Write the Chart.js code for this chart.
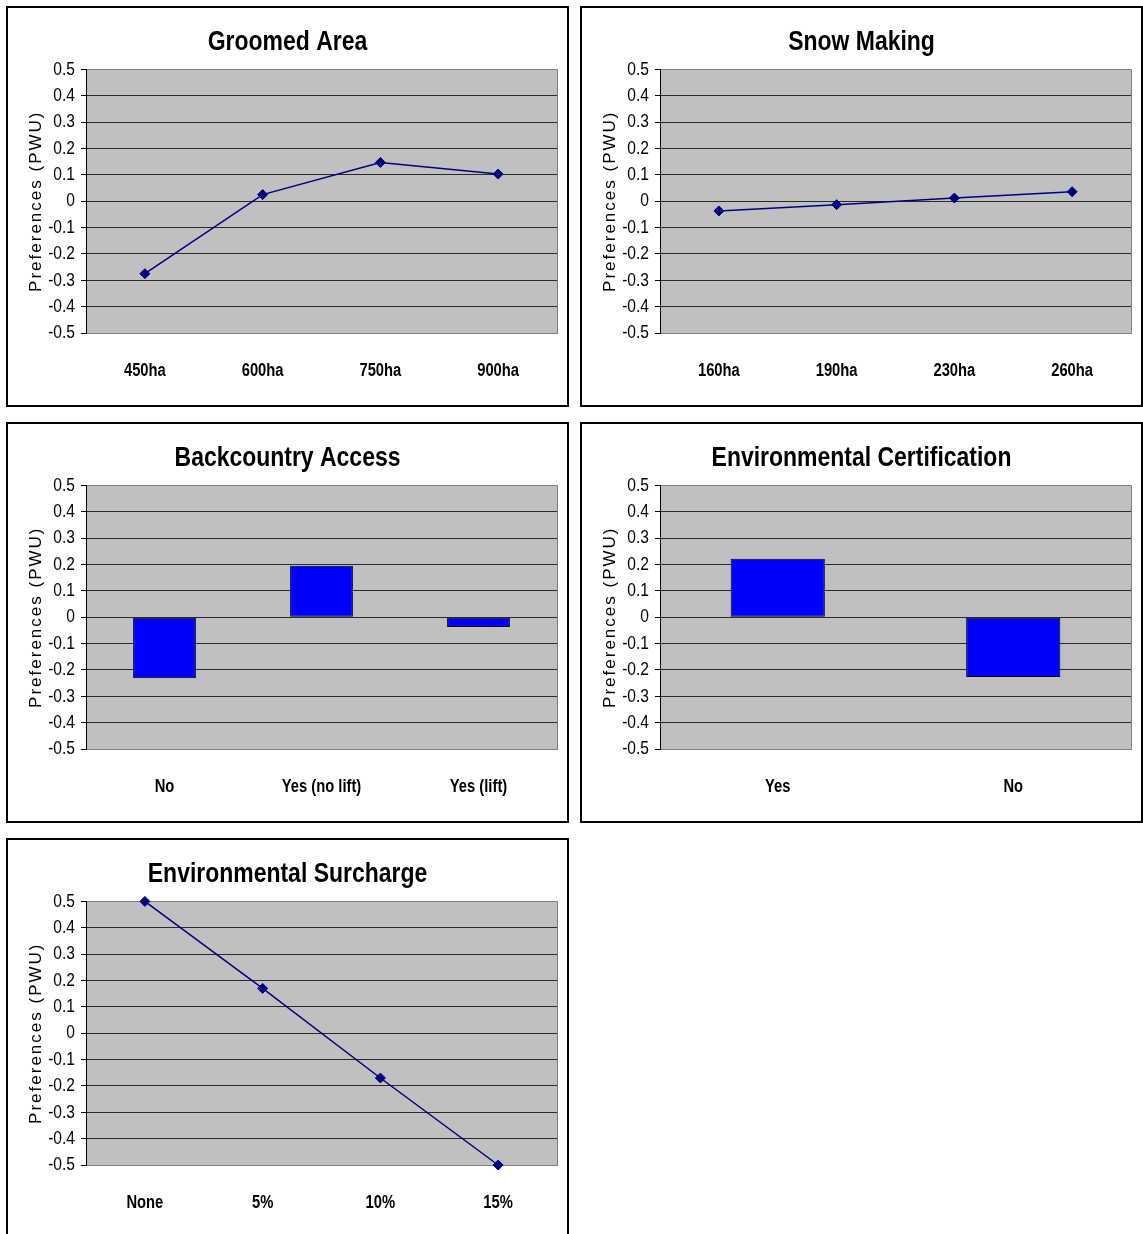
<!DOCTYPE html>
<html>
<head>
<meta charset="utf-8">
<script src="https://cdn.jsdelivr.net/npm/chart.js@4.4.1/dist/chart.umd.min.js"></script>
<style>
  html, body { margin: 0; padding: 0; background: #fff; overflow: hidden; }
  body { width: 1143px; height: 1234px; position: relative; }
  .panel { position: absolute; border: 2px solid #000; width: 559px; height: 397px; background: #fff; }
  .panel canvas { display: block; }
</style>
</head>
<body>
<div class="panel" style="left:6px;top:6px"><canvas id="groomed" width="559" height="397"></canvas></div>
<div class="panel" style="left:580px;top:6px"><canvas id="snow" width="559" height="397"></canvas></div>
<div class="panel" style="left:6px;top:422px"><canvas id="backcountry" width="559" height="397"></canvas></div>
<div class="panel" style="left:580px;top:422px"><canvas id="cert" width="559" height="397"></canvas></div>
<div class="panel" style="left:6px;top:838px"><canvas id="surcharge" width="559" height="397"></canvas></div>
<script>
// Part-worth utilities per attribute level
const groomedLabels = ['450ha', '600ha', '750ha', '900ha'];
const groomedValues = [-0.275, 0.025, 0.147, 0.103];

const snowLabels = ['160ha', '190ha', '230ha', '260ha'];
const snowValues = [-0.037, -0.013, 0.012, 0.036];

const backcountryLabels = ['No', 'Yes (no lift)', 'Yes (lift)'];
const backcountryValues = [-0.232, 0.195, -0.037];

const certLabels = ['Yes', 'No'];
const certValues = [0.222, -0.227];

const surchargeLabels = ['None', '5%', '10%', '15%'];
const surchargeValues = [0.5, 0.17, -0.17, -0.5];

// Shared value axis
const Y_MIN = -0.5;
const Y_MAX = 0.5;
const Y_STEP = 0.1;
const Y_TITLE = 'Preferences (PWU)';

const NARROW = "'Liberation Sans Narrow', 'Arial Narrow', 'Liberation Sans', Arial, sans-serif";
const REGULAR = "'Liberation Sans', Arial, sans-serif";

// When no narrow face is installed, squeeze the regular face horizontally instead.
const NARROW_FACTOR = (function () {
  const p = document.createElement('canvas').getContext('2d');
  p.font = "40px 'Liberation Sans Narrow', 'Arial Narrow', monospace";
  const a = p.measureText('Groomed Area 0.5').width;
  p.font = '40px monospace';
  const b = p.measureText('Groomed Area 0.5').width;
  return Math.abs(a - b) < 0.5 ? 0.82 : 1;
})();

function condenseNarrowText(ctx, factor) {
  if (factor === 1) return;
  const orig = ctx.fillText.bind(ctx);
  ctx.fillText = function (text, x, y, maxWidth) {
    if (String(this.font).indexOf('Narrow') === -1) {
      return maxWidth === undefined ? orig(text, x, y) : orig(text, x, y, maxWidth);
    }
    this.save();
    this.translate(x, y);
    this.scale(factor, 1);
    if (maxWidth === undefined) orig(text, 0, 0); else orig(text, 0, 0, maxWidth / factor);
    this.restore();
  };
}

// Grey plot background and the right-hand frame edge
const plotFrame = {
  id: 'plotFrame',
  beforeDraw(chart) {
    const { ctx, chartArea: a } = chart;
    ctx.save();
    ctx.fillStyle = '#c0c0c0';
    ctx.fillRect(a.left, a.top, a.right - a.left, a.bottom - a.top);
    ctx.restore();
  },
  beforeDatasetsDraw(chart) {
    const { ctx, chartArea: a } = chart;
    ctx.save();
    ctx.strokeStyle = '#808080';
    ctx.lineWidth = 1;
    ctx.beginPath();
    ctx.moveTo(Math.round(a.right) + 0.5, a.top);
    ctx.lineTo(Math.round(a.right) + 0.5, a.bottom);
    ctx.stroke();
    ctx.restore();
  }
};

// Letter-spaced vertical axis title
const spacedAxisTitle = {
  id: 'spacedAxisTitle',
  beforeDraw(chart) {
    const s = chart.scales.y;
    if (s && !s.__spaced) {
      const orig = s.drawTitle;
      s.drawTitle = function () {
        const ctx = this.ctx;
        ctx.save();
        ctx.letterSpacing = '2px';
        orig.call(this);
        ctx.restore();
      };
      s.__spaced = true;
    }
  }
};

function lineDataset(values) {
  return {
    data: values,
    borderColor: '#000080',
    borderWidth: 1.5,
    pointStyle: 'rectRot',
    pointRadius: 5,
    pointBackgroundColor: '#000080',
    pointBorderColor: '#000080',
    pointBorderWidth: 1,
    tension: 0,
    fill: false,
    clip: false
  };
}

function barDataset(values) {
  return {
    data: values,
    backgroundColor: '#0000ff',
    borderColor: '#000000',
    borderWidth: 1,
    borderSkipped: false,
    barPercentage: 0.4,
    categoryPercentage: 1
  };
}

function makeChart(id, title, type, labels, values) {
  const canvas = document.getElementById(id);
  condenseNarrowText(canvas.getContext('2d'), NARROW_FACTOR);
  return new Chart(canvas, {
    type: type,
    data: {
      labels: labels,
      datasets: [type === 'bar' ? barDataset(values) : lineDataset(values)]
    },
    plugins: [plotFrame, spacedAxisTitle],
    options: {
      responsive: false,
      animation: false,
      events: [],
      layout: { padding: { left: 10, right: 10, top: 0, bottom: 24 } },
      plugins: {
        legend: { display: false },
        tooltip: { enabled: false },
        title: {
          display: true,
          text: title,
          color: '#000',
          font: { family: NARROW, size: 28, weight: 'bold' },
          padding: { top: 17.8, bottom: 10 }
        }
      },
      scales: {
        x: {
          offset: true,
          grid: { display: false, drawTicks: false },
          border: { display: true, color: '#808080', width: 1 },
          ticks: {
            color: '#000',
            font: { family: NARROW, size: 18, weight: 'bold' },
            padding: 27,
            maxRotation: 0,
            autoSkip: false
          },
          afterFit(s) { s.height = 48; }
        },
        y: {
          min: Y_MIN,
          max: Y_MAX,
          ticks: {
            stepSize: Y_STEP,
            color: '#000',
            font: { family: NARROW, size: 19 },
            padding: 6,
            autoSkip: false,
            callback: v => String(Math.round(v * 10) / 10)
          },
          grid: {
            color: c => (c.tick && Math.abs(Math.abs(c.tick.value) - 0.5) < 1e-6) ? '#808080' : '#2a2a2a',
            tickColor: '#000',
            tickLength: 5,
            lineWidth: 1
          },
          border: { display: true, color: '#000', width: 1 },
          title: {
            display: true,
            text: Y_TITLE,
            color: '#000',
            font: { family: REGULAR, size: 17 },
            padding: { top: 8, bottom: 0 }
          },
          afterFit(s) { s.width = 68; }
        }
      }
    }
  });
}

makeChart('groomed', 'Groomed Area', 'line', groomedLabels, groomedValues);
makeChart('snow', 'Snow Making', 'line', snowLabels, snowValues);
makeChart('backcountry', 'Backcountry Access', 'bar', backcountryLabels, backcountryValues);
makeChart('cert', 'Environmental Certification', 'bar', certLabels, certValues);
makeChart('surcharge', 'Environmental Surcharge', 'line', surchargeLabels, surchargeValues);
</script>
</body>
</html>
